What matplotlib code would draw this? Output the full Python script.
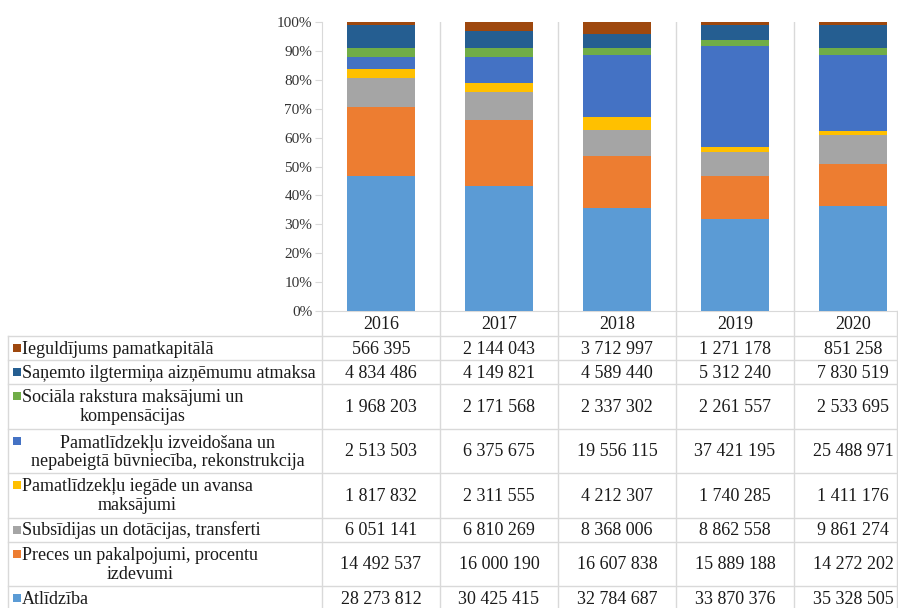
import matplotlib.pyplot as plt
import numpy as np
from matplotlib.patches import Rectangle

plt.rcParams['font.family'] = ['Liberation Serif', 'DejaVu Serif']

years = ["2016", "2017", "2018", "2019", "2020"]

# series in stacking order (bottom -> top)
labels = [
    "Atlīdzība",
    "Preces un pakalpojumi, procentu\nizdevumi",
    "Subsīdijas un dotācijas, transferti",
    "Pamatlīdzekļu iegāde un avansa\nmaksājumi",
    "Pamatlīdzekļu izveidošana un\nnepabeigtā būvniecība, rekonstrukcija",
    "Sociāla rakstura maksājumi un\nkompensācijas",
    "Saņemto ilgtermiņa aizņēmumu atmaksa",
    "Ieguldījums pamatkapitālā",
]

atlidziba = [28273812, 30425415, 32784687, 33870376, 35328505]
preces = [14492537, 16000190, 16607838, 15889188, 14272202]
subsidijas = [6051141, 6810269, 8368006, 8862558, 9861274]
iegade = [1817832, 2311555, 4212307, 1740285, 1411176]
izveidosana = [2513503, 6375675, 19556115, 37421195, 25488971]
socialie = [1968203, 2171568, 2337302, 2261557, 2533695]
aiznemumi = [4834486, 4149821, 4589440, 5312240, 7830519]
ieguldijums = [566395, 2144043, 3712997, 1271178, 851258]

series = [atlidziba, preces, subsidijas, iegade, izveidosana, socialie, aiznemumi, ieguldijums]
colors = ["#5B9BD5", "#ED7D31", "#A5A5A5", "#FFC000", "#4472C4", "#70AD47", "#255E91", "#9E480E"]

W, H = 898, 608
grid_c = "#D9D9D9"
txt_c = "#1a1a1a"

fig = plt.figure(figsize=(W / 100, H / 100), dpi=100)

# plot area in pixels
px_left, px_top, px_bottom = 322, 22, 311
col_w = 118
ax = fig.add_axes([px_left / W, 1 - px_bottom / H, 5 * col_w / W, (px_bottom - px_top) / H])

data = np.array(series, dtype=float)
shares = data / data.sum(axis=0)
x = np.arange(len(years)) + 0.5
bottom = np.zeros(len(years))
for share, c in zip(shares, colors):
    ax.bar(x, share, width=0.57, bottom=bottom, color=c, zorder=3)
    bottom += share

ax.set_xlim(0, 5)
ax.set_ylim(0, 1)
ax.set_xticks([1, 2, 3, 4])
ax.set_xticklabels([])
ax.tick_params(axis='x', length=0)
ax.grid(axis='x', color=grid_c, lw=1, zorder=0)
ax.set_yticks(np.arange(0, 1.01, 0.1))
ax.set_yticklabels([f"{int(round(v * 100))}%" for v in np.arange(0, 1.01, 0.1)])
ax.tick_params(axis='y', length=5, color=grid_c, labelcolor="#333333", labelsize=11, pad=2)
for s in ['top', 'right']:
    ax.spines[s].set_visible(False)
ax.spines['left'].set_color(grid_c)
ax.spines['bottom'].set_color(grid_c)

# data table below the chart, drawn in pixel coordinates
tab = fig.add_axes([0, 0, 1, 1])
tab.set_xlim(0, W)
tab.set_ylim(H, 0)
tab.axis('off')

tbl_left = 8
tbl_right = 897
head_top, head_bot = px_bottom, 336
fs = 13

col_edges = [px_left + i * col_w for i in range(len(years) + 1)]
for i, yr in enumerate(years):
    tab.text((col_edges[i] + col_edges[i + 1]) / 2, (head_top + head_bot) / 2 + 1, yr,
             ha='center', va='center', fontsize=fs, color=txt_c)

rows = list(range(len(series)))[::-1]
y = head_bot
bounds = [y]
for r in rows:
    nl = labels[r].count("\n") + 1
    h = 24 if nl == 1 else 44.5
    yc = y + h / 2
    # values
    for i in range(len(years)):
        val = f"{series[r][i]:,}".replace(",", " ")
        tab.text((col_edges[i] + col_edges[i + 1]) / 2, yc + 1, val,
                 ha='center', va='center', fontsize=fs, color=txt_c)
    # legend key
    key_y = yc if nl == 1 else yc - 10
    tab.add_patch(Rectangle((13, key_y - 4), 8, 8, color=colors[r], lw=0))
    if "izveidošana" in labels[r]:
        tab.text((tbl_left + px_left) / 2 + 3, yc + 1, labels[r], ha='center', va='center',
                 fontsize=fs, color=txt_c, multialignment='center', linespacing=1.15)
    else:
        tab.text(22, yc + 1, labels[r], ha='left', va='center',
                 fontsize=fs, color=txt_c, multialignment='center', linespacing=1.15)
    y += h
    bounds.append(y)

for b in bounds:
    tab.plot([tbl_left, tbl_right], [b, b], color=grid_c, lw=1)
tab.plot([tbl_left, tbl_left], [head_bot, H], color=grid_c, lw=1)
tab.plot([px_left, px_left], [px_bottom, H], color=grid_c, lw=1)
for e in col_edges[1:-1]:
    tab.plot([e, e], [px_bottom, H], color=grid_c, lw=1)
tab.plot([tbl_right, tbl_right], [px_bottom, H], color=grid_c, lw=1)

fig.savefig("out.png", dpi=100)
